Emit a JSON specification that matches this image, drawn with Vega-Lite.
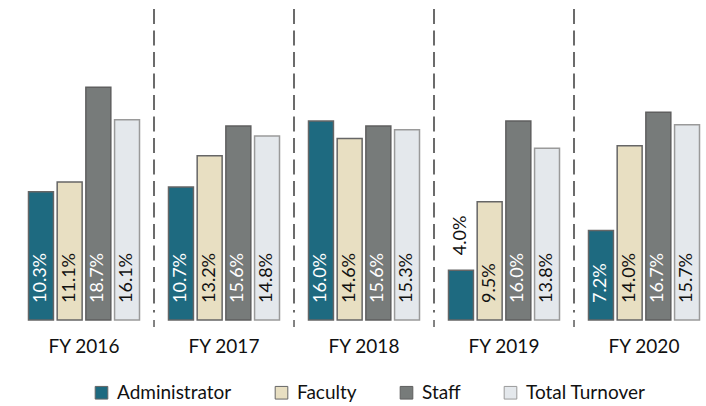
{
  "$schema": "https://vega.github.io/schema/vega-lite/v6.json",
  "width": 681,
  "height": 311,
  "autosize": {"type": "none"},
  "padding": {"left": 25, "top": 9, "right": 0, "bottom": 86},
  "background": "white",
  "config": {
    "view": {"stroke": null},
    "font": "Lato",
    "legend": {
      "orient": "none",
      "legendX": 67,
      "legendY": 374,
      "direction": "horizontal",
      "title": null,
      "symbolType": "square",
      "symbolSize": 160,
      "symbolStrokeWidth": 1,
      "labelFont": "Lato",
      "labelFontSize": 19,
      "labelColor": "#111",
      "labelOffset": 6,
      "columnPadding": 40
    }
  },
  "data": {
    "values": [
      {"year": "FY 2016", "cat": "Administrator", "value": 0.103},
      {"year": "FY 2016", "cat": "Faculty", "value": 0.111},
      {"year": "FY 2016", "cat": "Staff", "value": 0.187},
      {"year": "FY 2016", "cat": "Total Turnover", "value": 0.161},
      {"year": "FY 2017", "cat": "Administrator", "value": 0.107},
      {"year": "FY 2017", "cat": "Faculty", "value": 0.132},
      {"year": "FY 2017", "cat": "Staff", "value": 0.156},
      {"year": "FY 2017", "cat": "Total Turnover", "value": 0.148},
      {"year": "FY 2018", "cat": "Administrator", "value": 0.160},
      {"year": "FY 2018", "cat": "Faculty", "value": 0.146},
      {"year": "FY 2018", "cat": "Staff", "value": 0.156},
      {"year": "FY 2018", "cat": "Total Turnover", "value": 0.153},
      {"year": "FY 2019", "cat": "Administrator", "value": 0.040},
      {"year": "FY 2019", "cat": "Faculty", "value": 0.095},
      {"year": "FY 2019", "cat": "Staff", "value": 0.160},
      {"year": "FY 2019", "cat": "Total Turnover", "value": 0.138},
      {"year": "FY 2020", "cat": "Administrator", "value": 0.072},
      {"year": "FY 2020", "cat": "Faculty", "value": 0.140},
      {"year": "FY 2020", "cat": "Staff", "value": 0.167},
      {"year": "FY 2020", "cat": "Total Turnover", "value": 0.157}
    ]
  },
  "encoding": {
    "x": {
      "field": "year",
      "type": "nominal",
      "scale": {"range": [-11, 689], "paddingInner": 0.207, "paddingOuter": 0.1035},
      "axis": {
        "title": null,
        "domain": false,
        "ticks": false,
        "labelAngle": 0,
        "labelFont": "Lato",
        "labelFontSize": 19,
        "labelColor": "#111",
        "labelPadding": 17
      }
    }
  },
  "layer": [
    {
      "mark": {"type": "bar", "strokeWidth": 1.5},
      "encoding": {
        "xOffset": {"field": "cat", "type": "nominal", "scale": {"paddingInner": 0.13, "paddingOuter": 0}},
        "y": {"field": "value", "type": "quantitative", "scale": {"domain": [0, 0.25], "nice": false}, "axis": null},
        "fill": {
          "field": "cat",
          "type": "nominal",
          "scale": {"domain": ["Administrator", "Faculty", "Staff", "Total Turnover"], "range": ["#1E6A80", "#E8DFC2", "#777B7A", "#E4E8EC"]},
          "legend": {}
        },
        "stroke": {
          "field": "cat",
          "type": "nominal",
          "scale": {"domain": ["Administrator", "Faculty", "Staff", "Total Turnover"], "range": ["#666666", "#666666", "#5f5f5f", "#9a9a9a"]},
          "legend": {}
        }
      }
    },
    {
      "transform": [{"filter": "datum.cat === 'Administrator' && datum.year !== 'FY 2020'"}],
      "mark": {"type": "rule", "color": "#6b6b6b", "strokeWidth": 2, "strokeDash": [15, 6.5]},
      "encoding": {
        "x": {"field": "year", "type": "nominal", "bandPosition": 1.1306},
        "y": {"datum": 0.25, "type": "quantitative"},
        "y2": {"datum": 0.006}
      }
    },
    {
      "transform": [{"filter": "datum.cat === 'Administrator' && datum.year !== 'FY 2020'"}],
      "mark": {"type": "rule", "color": "#595959", "strokeWidth": 1.5, "y2Offset": 7},
      "encoding": {
        "x": {"field": "year", "type": "nominal", "bandPosition": 1.1306},
        "y": {"datum": 0, "type": "quantitative"},
        "y2": {"datum": 0}
      }
    },
    {
      "mark": {"type": "rule", "color": "#595959", "strokeWidth": 1.5},
      "encoding": {"y": {"datum": 0, "type": "quantitative"}}
    },
    {
      "transform": [{"filter": "datum.value >= 0.05"}],
      "mark": {"type": "text", "angle": 270, "align": "left", "baseline": "middle", "dx": 17, "fontSize": 18, "font": "Lato"},
      "encoding": {
        "xOffset": {"field": "cat", "type": "nominal"},
        "y": {"datum": 0, "type": "quantitative"},
        "text": {"field": "value", "type": "quantitative", "format": ".1%"},
        "color": {
          "condition": {"test": "datum.cat === 'Administrator' || datum.cat === 'Staff'", "value": "white"},
          "value": "#111"
        }
      }
    },
    {
      "transform": [{"filter": "datum.value < 0.05"}],
      "mark": {"type": "text", "angle": 270, "align": "left", "baseline": "middle", "dx": 15, "fontSize": 18, "font": "Lato", "color": "#111"},
      "encoding": {
        "xOffset": {"field": "cat", "type": "nominal"},
        "y": {"field": "value", "type": "quantitative"},
        "text": {"field": "value", "type": "quantitative", "format": ".1%"}
      }
    }
  ]
}
